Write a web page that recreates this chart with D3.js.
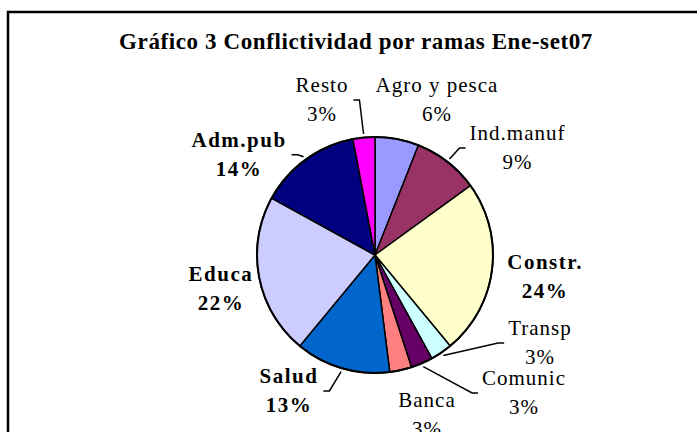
<!DOCTYPE html>
<html>
<head>
<meta charset="utf-8">
<script src="https://cdn.jsdelivr.net/npm/d3@7"></script>
<style>
  html, body { margin: 0; padding: 0; background: #fff; }
  svg { display: block; }
</style>
</head>
<body>
<div id="chart"></div>
<script>
// Datos
const categories = ["Agro y pesca", "Ind.manuf", "Constr.", "Transp", "Comunic", "Banca", "Salud", "Educa", "Adm.pub", "Resto"];
const values = [6, 9, 24, 3, 3, 3, 13, 22, 14, 3];
const colors = ["#9999FF", "#993366", "#FFFFCC", "#CCFFFF", "#660066", "#FF8080", "#0066CC", "#CCCCFF", "#000080", "#FF00FF"];
const boldLabels = ["Constr.", "Salud", "Educa", "Adm.pub"];

// Posición de etiquetas (ángulo en grados desde las 12, distancia en radios), movidas a mano como en Excel
const labelAngle = [20.8, 51.1, 94.7, 115.9, 131.1, 161.1, 213.9, 260.4, 308.5, 342];
const labelDist = [1.478, 1.552, 1.446, 1.554, 1.676, 1.361, 1.307, 1.324, 1.472, 1.453];
const hasLeader = [false, true, false, true, true, false, true, false, true, true];

const width = 697, height = 432;
const cx = 375, cy = 255, radius = 118;
const font = "'Liberation Serif', 'Times New Roman', serif";

const svg = d3.select("#chart").append("svg")
  .attr("width", width)
  .attr("height", height);

// Marco del área del gráfico
svg.append("rect")
  .attr("x", 8).attr("y", 12)
  .attr("width", width + 20).attr("height", height + 20)
  .attr("fill", "#fff")
  .attr("stroke", "#000")
  .attr("stroke-width", 2.5);

// Título
svg.append("text")
  .attr("x", 356).attr("y", 49)
  .attr("text-anchor", "middle")
  .attr("font-family", font)
  .attr("font-weight", "bold")
  .attr("font-size", "23px")
  .attr("letter-spacing", "0.6px")
  .text("Gráfico 3 Conflictividad por ramas Ene-set07");

const total = d3.sum(values);
const pie = d3.pie().sort(null).value(d => d)(values);
const arc = d3.arc().innerRadius(0).outerRadius(radius);

const g = svg.append("g").attr("transform", `translate(${cx},${cy})`);

g.selectAll("path.slice")
  .data(pie)
  .join("path")
  .attr("class", "slice")
  .attr("d", arc)
  .attr("fill", (d, i) => colors[i])
  .attr("stroke", "#000")
  .attr("stroke-width", 1.5)
  .attr("stroke-linejoin", "round");

g.append("circle")
  .attr("r", radius)
  .attr("fill", "none")
  .attr("stroke", "#000")
  .attr("stroke-width", 2);

const polar = (angle, r) => [r * Math.sin(angle), -r * Math.cos(angle)];

// Etiquetas
const labels = g.append("g").selectAll("g")
  .data(pie)
  .join("g")
  .attr("transform", (d, i) => {
    const [x, y] = polar(labelAngle[i] * Math.PI / 180, labelDist[i] * radius);
    return `translate(${x},${y})`;
  });

labels.each(function(d, i) {
  const sel = d3.select(this);
  const bold = boldLabels.includes(categories[i]);
  const t = sel.append("text")
    .attr("text-anchor", "middle")
    .attr("font-family", font)
    .attr("font-size", "21px")
    .attr("font-weight", bold ? "bold" : "normal")
    .attr("letter-spacing", bold ? "1.5px" : "1px")
    .attr("fill", "#000");
  t.append("tspan").attr("x", 0).attr("y", 0).text(categories[i]);
  t.append("tspan").attr("x", 0).attr("y", 29).text(Math.round(d.value / total * 100) + "%");
});

// Líneas guía
const leaders = g.append("g")
  .attr("fill", "none")
  .attr("stroke", "#000")
  .attr("stroke-width", 1.5);

labels.each(function(d, i) {
  if (!hasLeader[i]) return;
  const box = this.querySelector("tspan").getBBox ? this.querySelector("text").getBBox() : null;
  const [lx, ly] = polar(labelAngle[i] * Math.PI / 180, labelDist[i] * radius);
  const mid = (d.startAngle + d.endAngle) / 2;
  const [sx, sy] = polar(mid, radius * 1.03);
  const nameW = this.querySelector("tspan").getComputedTextLength();
  const toRight = sx > lx; // la línea sale por el lado derecho de la etiqueta
  const ex = lx + (toRight ? nameW / 2 + 5 : -nameW / 2 - 4);
  const ey = ly + 8;
  const kx = ex + (toRight ? 6 : -6);
  leaders.append("path")
    .attr("d", `M${sx},${sy}L${kx},${ey}L${ex},${ey}`);
});
</script>
</body>
</html>
